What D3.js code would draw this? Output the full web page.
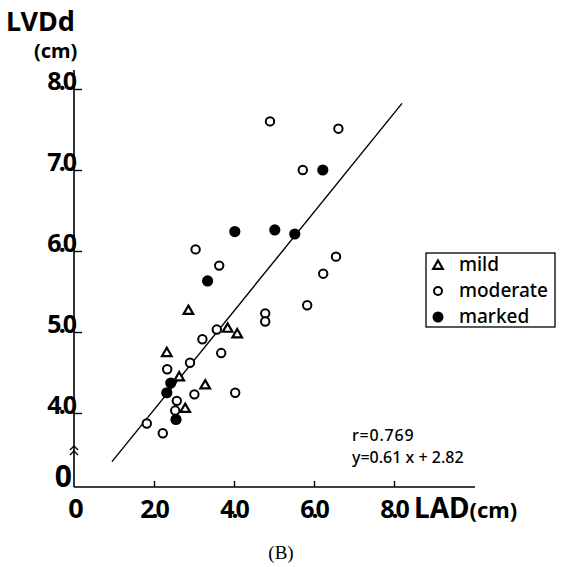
<!DOCTYPE html>
<html lang="en">
<head>
<meta charset="utf-8">
<script src="https://d3js.org/d3.v7.min.js"></script>
<style>
  body { margin: 0; background: #fff; }
  text { font-family: "Noto Sans", sans-serif; fill: #000; }
</style>
</head>
<body>
<div id="chart"></div>
<script>
// LAD (cm) vs LVDd (cm), grouped by severity
const mildX = [2.86, 3.84, 4.08, 2.32, 2.63, 3.28, 2.78];
const mildY = [5.27, 5.05, 4.98, 4.75, 4.45, 4.35, 4.06];

const moderateX = [4.9, 6.61, 5.72, 3.04, 3.63, 6.55, 6.23, 5.83, 4.78, 4.78, 3.57, 3.21, 3.68, 2.9, 2.33, 3.01, 4.03, 2.57, 2.53, 1.82, 2.22];
const moderateY = [7.60, 7.51, 7.0, 6.02, 5.82, 5.93, 5.72, 5.33, 5.23, 5.13, 5.03, 4.91, 4.74, 4.62, 4.54, 4.23, 4.25, 4.15, 4.03, 3.87, 3.75];

const markedX = [6.22, 4.02, 5.02, 5.52, 3.34, 2.42, 2.32, 2.55];
const markedY = [7.0, 6.24, 6.26, 6.21, 5.63, 4.37, 4.25, 3.92];

const xTicks = [0, 2, 4, 6, 8];
const xTickLabels = ["0", "2.0", "4.0", "6.0", "8.0"];
const yTicks = [4, 5, 6, 7, 8];
const yTickLabels = ["4.0", "5.0", "6.0", "7.0", "8.0"];

const slope = 0.61, intercept = 2.82;
const fitRange = [0.95, 8.2];
const stats = ["r=0.769", "y=0.61 x + 2.82"];

const legendNames = ["mild", "moderate", "marked"];

const W = 562, H = 567;
const svg = d3.select("#chart").append("svg")
  .attr("width", W).attr("height", H);

const x = d3.scaleLinear().domain([0, 8]).range([74, 394]);
const y = d3.scaleLinear().domain([4, 8]).range([413, 89]);
const yBase = 487;

// x axis (ticks point inward)
const gx = svg.append("g").attr("transform", `translate(0,${yBase})`)
  .call(d3.axisTop(x).tickValues(xTicks).tickSize(6).tickPadding(0)
    .tickFormat((d, i) => xTickLabels[i]));
gx.select(".domain").remove();
gx.selectAll(".tick line").attr("stroke-width", 1.4)
  .filter(d => d === 0).remove();
gx.selectAll(".tick text")
  .attr("y", 31).attr("dy", null).attr("dx", d => d === 0 ? 0 : -1)
  .attr("fill", "#000")
  .style("font-size", d => d === 0 ? "27px" : "25px")
  .style("font-weight", "bold").style("letter-spacing", "-3px");

// y axis
const gy = svg.append("g").attr("transform", "translate(74,0)")
  .call(d3.axisRight(y).tickValues(yTicks).tickSize(8)
    .tickFormat((d, i) => yTickLabels[i]));
gy.select(".domain").remove();
gy.selectAll(".tick line").attr("stroke-width", 1.4);
gy.selectAll(".tick text")
  .attr("x", 0).attr("dy", "0.35em").attr("y", -8).attr("text-anchor", "end")
  .attr("fill", "#000")
  .style("font-size", "25px").style("font-weight", "bold").style("letter-spacing", "-3px");

svg.append("line").attr("x1", 74).attr("x2", 475).attr("y1", yBase).attr("y2", yBase)
  .attr("stroke", "#000").attr("stroke-width", 1.6);
svg.append("line").attr("x1", 74).attr("x2", 74).attr("y1", yBase).attr("y2", 70)
  .attr("stroke", "#000").attr("stroke-width", 1.6);
svg.append("text").attr("x", 72).attr("y", 487).attr("text-anchor", "end")
  .style("font-size", "30px").style("font-weight", "bold").text("0");

// axis break
[446, 451].forEach(v => {
  svg.append("path")
    .attr("d", `M${70},${v + 4} L74,${v} L78,${v + 4}`)
    .attr("fill", "none").attr("stroke", "#000").attr("stroke-width", 1.3);
});

// axis titles
svg.append("text").attr("x", 6).attr("y", 31).style("font-size", "27px")
  .style("font-weight", "bold").style("letter-spacing", "0px").text("LVDd");
svg.append("text").attr("x", 34).attr("y", 58).style("font-size", "20px")
  .style("font-weight", "bold").text("(cm)");
const lad = svg.append("text").attr("x", 414).attr("y", 518).style("font-weight", "bold");
lad.append("tspan").style("font-size", "28px").text("LAD");
lad.append("tspan").style("font-size", "22px").text("(cm)");

// regression line
svg.append("line")
  .attr("x1", x(fitRange[0])).attr("y1", y(slope * fitRange[0] + intercept))
  .attr("x2", x(fitRange[1])).attr("y2", y(slope * fitRange[1] + intercept))
  .attr("stroke", "#000").attr("stroke-width", 1.4);

// points
const tri = d3.symbol().type(d3.symbolTriangle).size(40);
svg.selectAll("path.mild").data(mildX).enter().append("path")
  .attr("class", "mild")
  .attr("d", tri)
  .attr("transform", (d, i) => `translate(${x(d)},${y(mildY[i]) + 1})`)
  .attr("fill", "#fff").attr("stroke", "#000").attr("stroke-width", 2.2);
svg.selectAll("circle.mod").data(moderateX).enter().append("circle")
  .attr("class", "mod")
  .attr("cx", d => x(d)).attr("cy", (d, i) => y(moderateY[i]))
  .attr("r", 4.2).attr("fill", "#fff").attr("stroke", "#000").attr("stroke-width", 2);
svg.selectAll("circle.mark").data(markedX).enter().append("circle")
  .attr("class", "mark")
  .attr("cx", d => x(d)).attr("cy", (d, i) => y(markedY[i]))
  .attr("r", 5.6).attr("fill", "#000");

// legend
svg.append("rect").attr("x", 426).attr("y", 253).attr("width", 129).attr("height", 74)
  .attr("fill", "none").attr("stroke", "#000").attr("stroke-width", 1.3);
const lg = svg.selectAll("g.lg").data(legendNames).enter().append("g")
  .attr("class", "lg")
  .attr("transform", (d, i) => `translate(438,${265 + i * 26})`);
lg.each(function(d, i) {
  const g = d3.select(this);
  if (i === 0) g.append("path").attr("d", tri).attr("transform", "translate(0,1)")
    .attr("fill", "#fff").attr("stroke", "#000").attr("stroke-width", 2.2);
  else if (i === 1) g.append("circle").attr("r", 4).attr("fill", "#fff")
    .attr("stroke", "#000").attr("stroke-width", 2);
  else g.append("circle").attr("r", 5.5).attr("fill", "#000");
});
lg.append("text").attr("x", 21).attr("y", 6).style("font-size", "19px")
  .style("font-weight", "500").text(d => d);

// stats
svg.selectAll("text.st").data(stats).enter().append("text")
  .attr("class", "st")
  .attr("x", 352).attr("y", (d, i) => 441 + i * 22)
  .style("font-size", "16px").style("font-weight", "500")
  .style("letter-spacing", (d, i) => i === 0 ? "0.8px" : "0px").text(d => d);

// caption
svg.append("text").attr("x", 281).attr("y", 559).attr("text-anchor", "middle")
  .style("font-family", "Liberation Serif, serif").style("font-size", "19px").text("(B)");
</script>
</body>
</html>
